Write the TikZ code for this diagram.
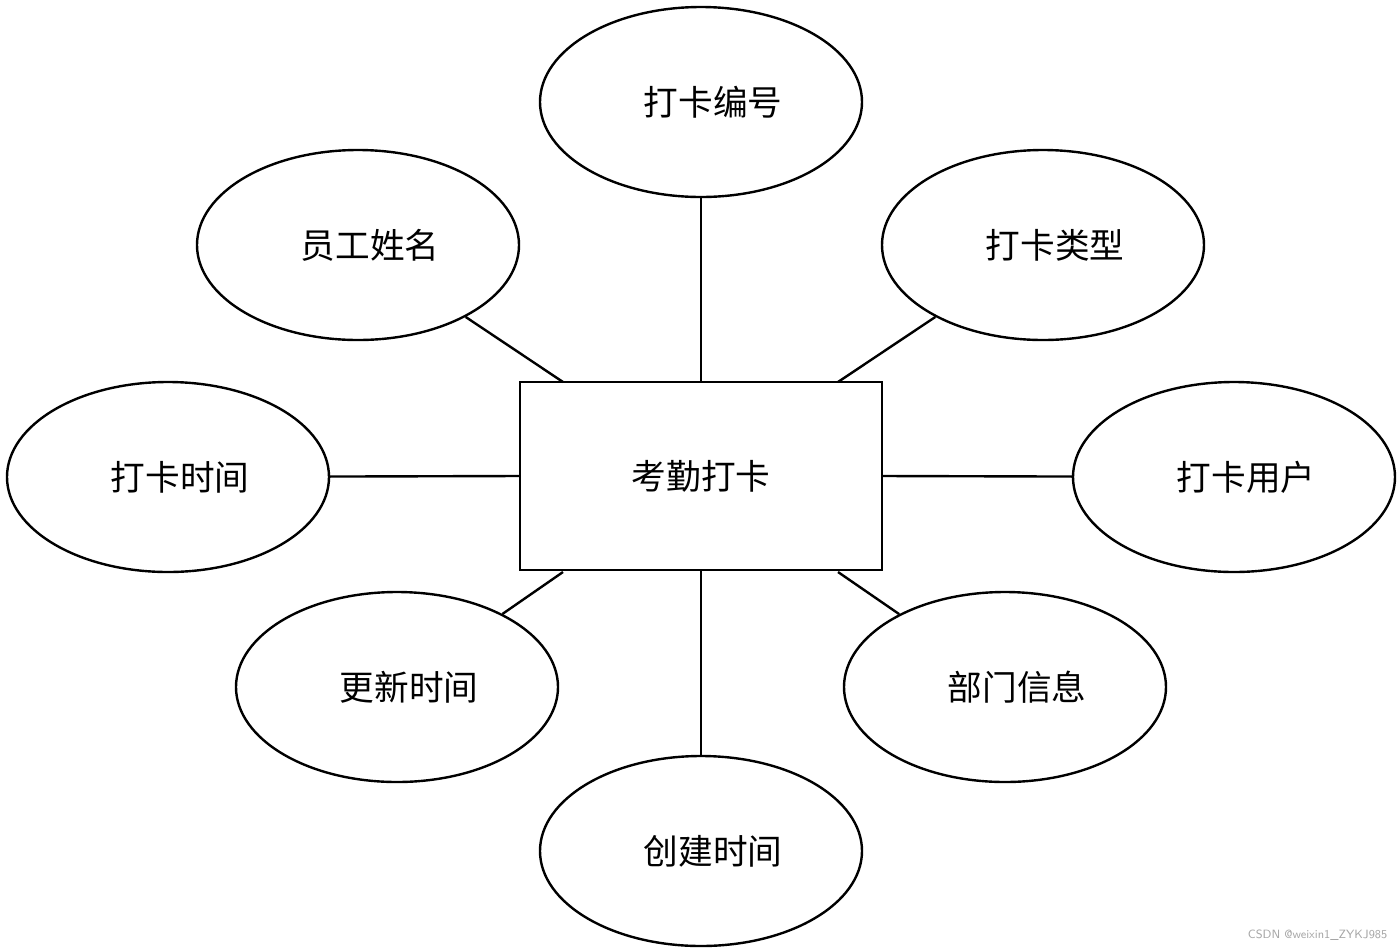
\documentclass[tikz,border=0pt]{standalone}
\usepackage{fontspec}
\newfontfamily\cjk{Noto Sans CJK SC}
\usetikzlibrary{shapes.geometric}
\begin{document}
\begin{tikzpicture}[x=0.75pt,y=-0.75pt,
  attr/.style={draw,ellipse,line width=1.8pt,minimum width=241.5pt,minimum height=142.5pt,inner sep=0pt,font=\cjk\fontsize{26}{30}\selectfont},
  ent/.style={draw,rectangle,line width=1.8pt,minimum width=271.5pt,minimum height=141pt,font=\cjk\fontsize{26}{30}\selectfont},
  conn/.style={line width=1.8pt}]
\useasboundingbox (0,0) rectangle (1400,951);
\fill[white] (0,0) rectangle (1400,951);
\node[ent] (box) at (701,476) {考勤打卡};
\node[attr] (e1) at (701,102) {\hspace{18pt}打卡编号};
\node[attr] (e2) at (358,245) {\hspace{18pt}员工姓名};
\node[attr] (e3) at (1043,245) {\hspace{18pt}打卡类型};
\node[attr] (e4) at (168,477) {\hspace{18pt}打卡时间};
\node[attr] (e5) at (1234,477) {\hspace{18pt}打卡用户};
\node[attr] (e6) at (397,687) {\hspace{18pt}更新时间};
\node[attr] (e7) at (1005,687) {\hspace{18pt}部门信息};
\node[attr] (e8) at (701,851) {\hspace{18pt}创建时间};
\coordinate (a2) at (563,382);
\coordinate (a3) at (838,382);
\coordinate (a6) at (563,572);
\coordinate (a7) at (838,572);
\draw[conn] (box.north) -- (e1);
\draw[conn] (a2) -- (e2);
\draw[conn] (a3) -- (e3);
\draw[conn] (box.west) -- (e4);
\draw[conn] (box.east) -- (e5);
\draw[conn] (a6) -- (e6);
\draw[conn] (a7) -- (e7);
\draw[conn] (box.south) -- (e8);
\node[text=gray!70,font=\sffamily\fontsize{9}{10}\selectfont,anchor=east] (wm) at (1392,935) {CSDN @weixin1\_ZYKJ985};
\end{tikzpicture}
\end{document}
